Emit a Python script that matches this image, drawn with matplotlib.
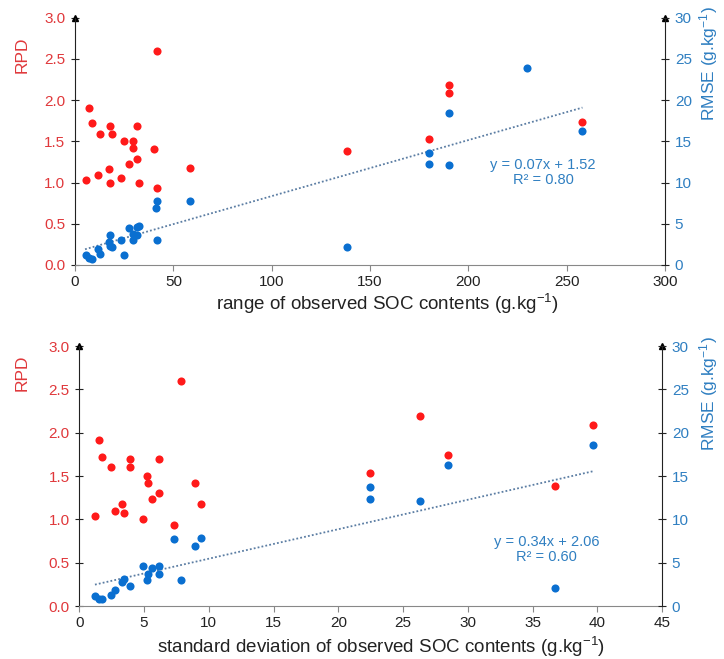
import matplotlib
matplotlib.use("Agg")
import matplotlib.pyplot as plt
import numpy as np

plt.rcParams['font.family'] = ['Liberation Sans', 'DejaVu Sans']
plt.rcParams['axes.unicode_minus'] = False
plt.rcParams['mathtext.default'] = 'regular'

# ---- Top panel data: range of observed SOC contents ----
top_rpd_x = [41.5, 7.1, 8.8, 12.7, 17.8, 18.7, 31.4, 24.9, 29.7, 29.7, 40.2, 31.4, 27.5,
             17.3, 11.9, 5.6, 17.8, 23.2, 32.6, 41.5, 58.5, 138.5, 180.2, 190.1, 190.1, 258.0]
top_rpd_y = [2.60, 1.91, 1.72, 1.59, 1.69, 1.59, 1.69, 1.50, 1.50, 1.42, 1.41, 1.29, 1.23,
             1.17, 1.09, 1.03, 0.99, 1.06, 0.99, 0.93, 1.18, 1.38, 1.53, 2.19, 2.09, 1.73]
top_rmse_x = [41.5, 41.0, 58.5, 32.7, 31.4, 27.6, 17.8, 29.3, 31.4, 29.7, 41.5, 23.2, 17.3,
              17.8, 18.7, 11.9, 12.7, 24.9, 5.6, 7.1, 8.8, 229.7, 190.1, 180.2, 180.2, 190.1,
              258.0, 138.5]
top_rmse_y = [7.7, 6.9, 7.8, 4.7, 4.6, 4.45, 3.6, 3.7, 3.6, 3.0, 3.0, 3.0, 2.8,
              2.3, 2.2, 1.9, 1.3, 1.2, 1.2, 0.8, 0.7, 23.9, 18.4, 13.6, 12.3, 12.1,
              16.2, 2.2]
top_line_x = [5.1, 258.0]
top_line_y = [1.9, 19.1]
top_eq = "y = 0.07x + 1.52\nR² = 0.80"
top_xticks = [0, 50, 100, 150, 200, 250, 300]

# ---- Bottom panel data: standard deviation of observed SOC contents ----
bot_rpd_x = [7.82, 1.50, 1.73, 2.47, 3.89, 3.89, 6.17, 5.20, 5.33, 5.58, 6.17, 3.32, 2.75,
             3.45, 1.21, 4.92, 7.31, 8.90, 9.41, 22.43, 26.31, 28.45, 36.76, 39.66]
bot_rpd_y = [2.60, 1.91, 1.72, 1.60, 1.70, 1.60, 1.70, 1.50, 1.42, 1.24, 1.30, 1.18, 1.10,
             1.07, 1.04, 1.00, 0.93, 1.42, 1.18, 1.53, 2.19, 1.74, 1.38, 2.09]
bot_rmse_x = [7.28, 8.90, 9.41, 4.92, 6.17, 5.58, 5.33, 6.17, 5.20, 7.82, 3.45, 3.32, 3.89,
              2.75, 2.47, 1.21, 1.50, 1.73, 22.43, 22.43, 26.31, 28.45, 36.76, 39.66]
bot_rmse_y = [7.76, 6.9, 7.9, 4.65, 4.6, 4.4, 3.7, 3.7, 3.0, 3.0, 3.1, 2.8, 2.3,
              1.85, 1.3, 1.1, 0.8, 0.77, 13.7, 12.3, 12.1, 16.3, 2.1, 18.6]
bot_line_x = [1.21, 39.66]
bot_line_y = [2.47, 15.55]
bot_eq = "y = 0.34x + 2.06\nR² = 0.60"
bot_xticks = [0, 5, 10, 15, 20, 25, 30, 35, 40, 45]

RED = '#ff1a1a'
RED_TXT = '#e0383b'
BLUE = '#0a6fd0'
BLUE_TXT = '#2f7fc1'
TREND = '#5b7da3'

fig = plt.figure(figsize=(7.24, 6.59), dpi=100)

def panel(rect, rx, ry, bx, by, lx, ly, eq, eqpos, xticks, xlabel, xlabel_xy, rpd_pos, rmse_pos):
    ax = fig.add_axes(rect)
    ax2 = ax.twinx()
    ax.set_xlim(xticks[0], xticks[-1])
    ax.set_ylim(0, 3.0)
    ax2.set_ylim(0, 30)
    ax.set_xticks(xticks)
    ax.set_yticks(np.arange(0, 3.01, 0.5))
    ax.set_yticklabels([f"{v:.1f}" for v in np.arange(0, 3.01, 0.5)])
    ax2.set_yticks(np.arange(0, 31, 5))
    for a in (ax, ax2):
        a.spines['top'].set_visible(False)
        a.patch.set_visible(False)
    ax.spines['right'].set_visible(False)
    ax2.spines['left'].set_visible(False)
    ax2.spines['bottom'].set_visible(False)
    ax.spines['left'].set_color('#222222')
    ax2.spines['right'].set_color('#222222')
    ax.spines['bottom'].set_color('#888888')
    ax.tick_params(axis='y', direction='inout', length=6, colors='#222222',
                   labelcolor=RED_TXT, labelsize=11, pad=4)
    ax2.tick_params(axis='y', direction='inout', length=6, colors='#222222',
                    labelcolor=BLUE_TXT, labelsize=11, pad=4)
    ax.tick_params(axis='x', direction='out', length=4, colors='#888888',
                   labelcolor='#222222', labelsize=11, pad=3)
    ax.scatter(rx, ry, s=34, color=RED, zorder=3, linewidths=0)
    ax2.scatter(bx, by, s=34, color=BLUE, zorder=3, linewidths=0)
    ax2.plot(lx, ly, color=TREND, lw=1.3, linestyle=(0, (1, 1.2)), zorder=2)
    ax2.text(eqpos[0], eqpos[1], eq, color=BLUE_TXT, fontsize=10.5, ha='center', va='center',
             linespacing=1.1)
    ax.set_xlabel(xlabel, fontsize=13.5, color='#222222')
    ax.xaxis.set_label_coords(xlabel_xy[0], xlabel_xy[1])
    # arrow heads at top of both vertical axes
    ax.plot([0], [1], marker='^', color='black', ms=5, transform=ax.transAxes, clip_on=False)
    ax.plot([1], [1], marker='^', color='black', ms=5, transform=ax.transAxes, clip_on=False)
    fig.text(rpd_pos[0], rpd_pos[1], 'RPD', color=RED_TXT, fontsize=12.5, ha='center',
             va='center', rotation=90)
    fig.text(rmse_pos[0], rmse_pos[1], 'RMSE (g.kg$^{-1}$)', color=BLUE_TXT, fontsize=12.5,
             ha='center', va='center', rotation=90)
    return ax, ax2

panel([0.1036, 0.598, 0.815, 0.375], top_rpd_x, top_rpd_y, top_rmse_x, top_rmse_y,
      top_line_x, top_line_y, top_eq, (238, 11.2), top_xticks,
      'range of observed SOC contents (g.kg$^{-1}$)', (0.53, -0.11),
      (22 / 724, 1 - 55 / 659), (709 / 724, 1 - 64 / 659))

panel([0.1095, 0.0804, 0.805, 0.3945], bot_rpd_x, bot_rpd_y, bot_rmse_x, bot_rmse_y,
      bot_line_x, bot_line_y, bot_eq, (36.07, 6.55), bot_xticks,
      'standard deviation of observed SOC contents (g.kg$^{-1}$)', (0.518, -0.11),
      (22 / 724, 1 - 373 / 659), (709 / 724, 1 - 394 / 659))

fig.savefig('out.png', dpi=100)
